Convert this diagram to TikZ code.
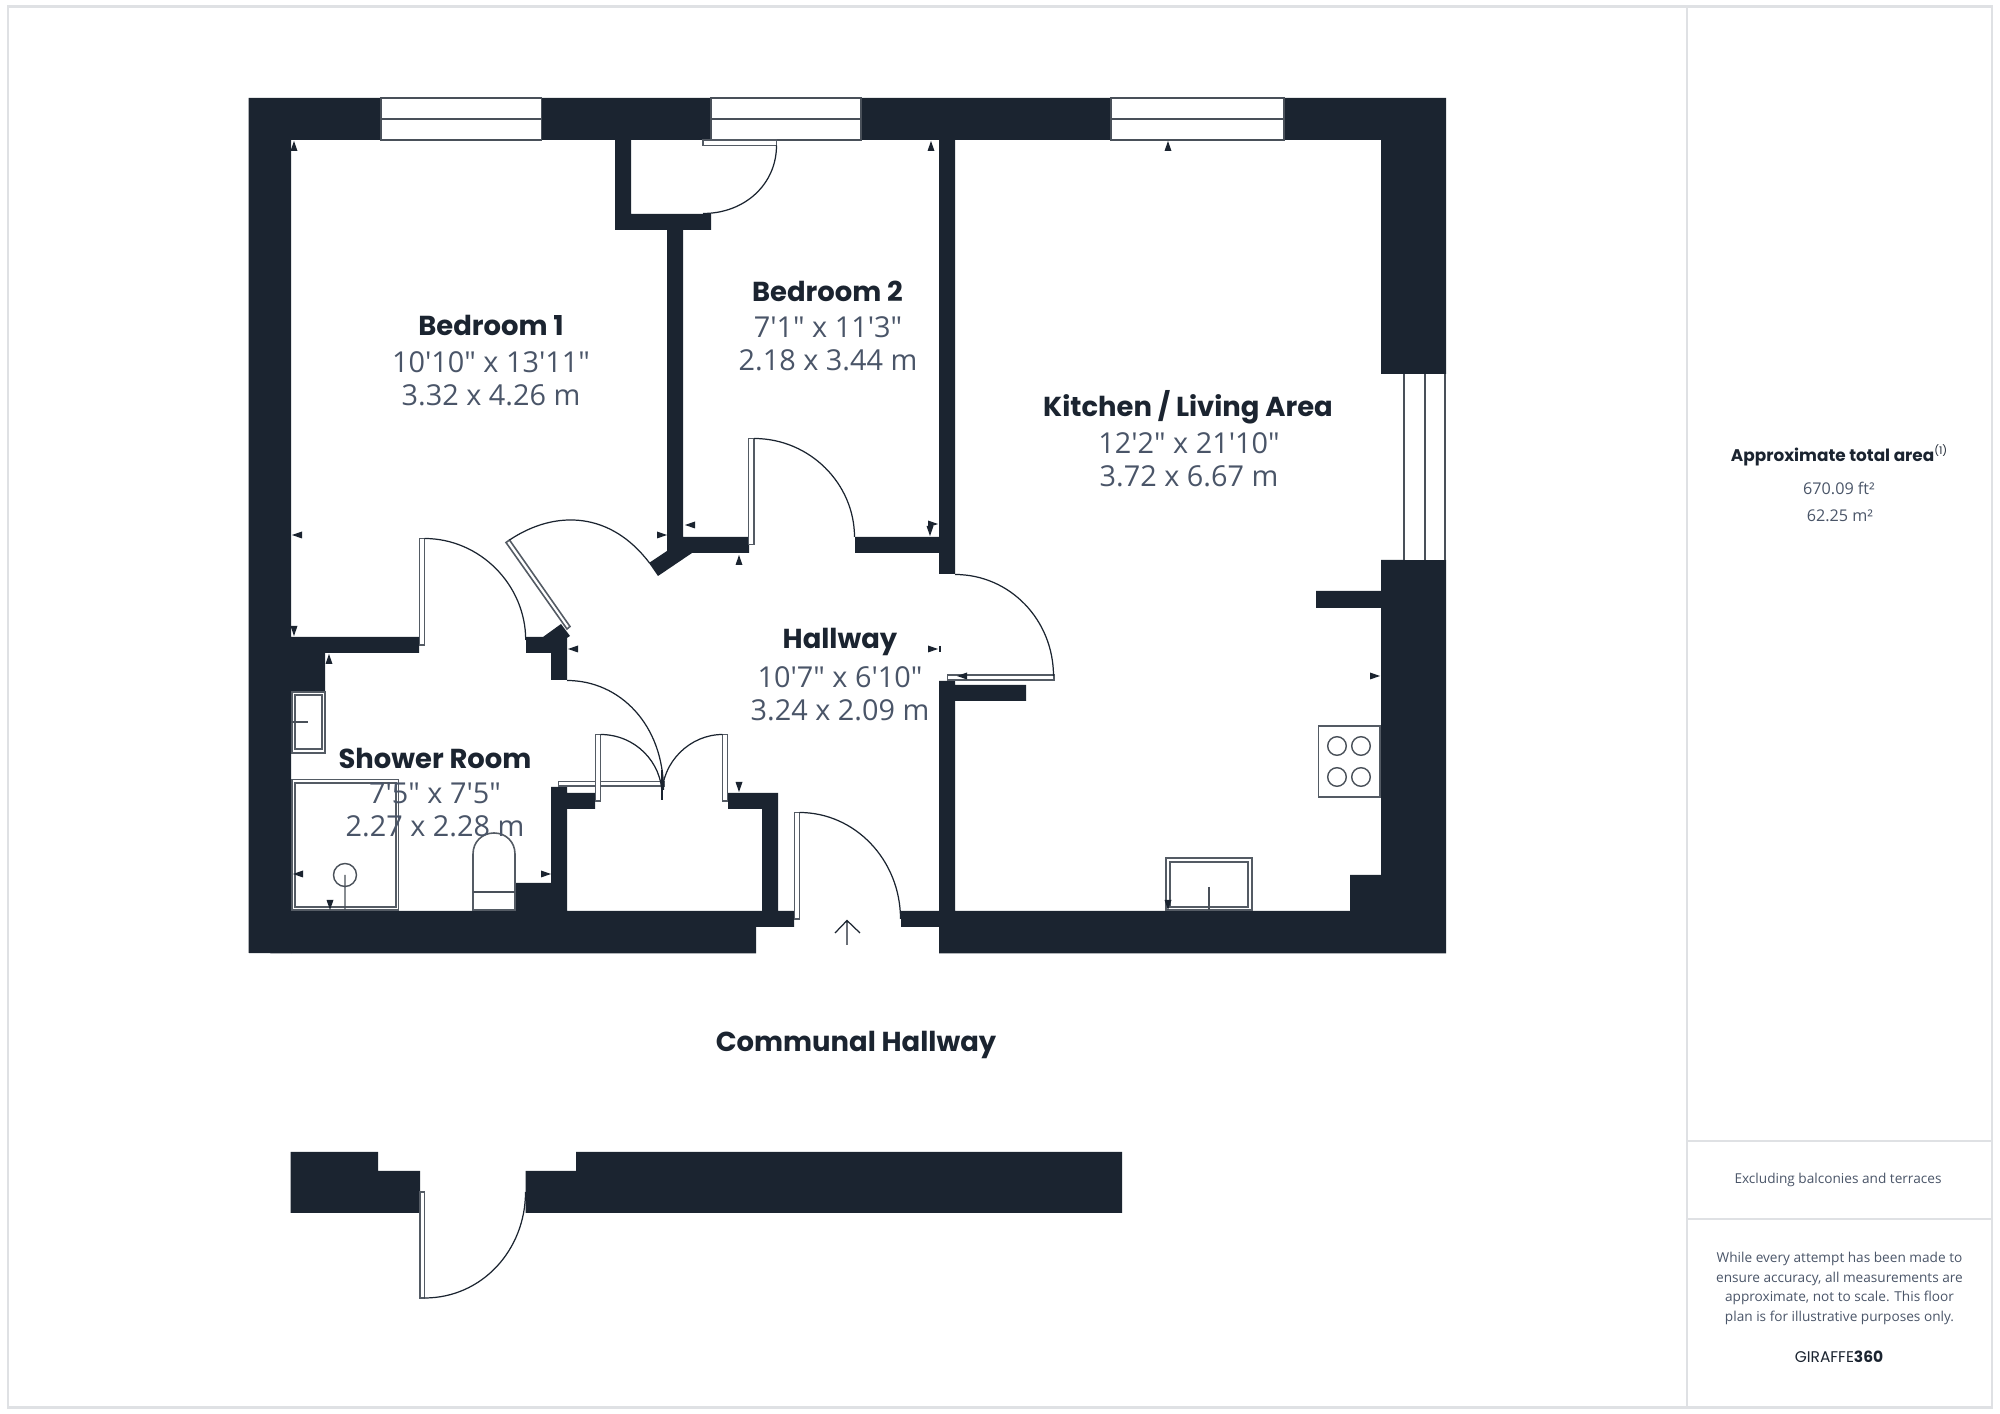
\documentclass[tikz,border=0pt]{standalone}
\usepackage{fontspec}
\setmainfont{Open Sans}[Ligatures=TeXOff]
\newfontfamily\headfont{Poppins}
\definecolor{wallcol}{HTML}{1B2430}
\definecolor{textcol}{HTML}{4A5568}
\definecolor{framecol}{HTML}{DFE1E4}
\tikzset{
  wall/.style={fill=wallcol},
  glazing/.style={draw=wallcol!80, line width=0.45pt, fill=white},
  thinline/.style={draw=wallcol!80, line width=0.4pt},
  fitting/.style={draw=wallcol!75, line width=0.45pt, fill=white},
  swing/.style={draw=wallcol, line width=0.35pt},
  roomname/.style={font=\headfont\fontsize{7.8}{10}\selectfont\bfseries, text=wallcol, inner sep=0pt},
  roomsize/.style={font=\fontsize{8.2}{9.25}\selectfont, text=textcol, inner sep=0pt},
  panelhead/.style={font=\headfont\fontsize{4.8}{6}\selectfont\bfseries, text=wallcol, inner sep=0pt},
  panelarea/.style={font=\fontsize{4.6}{5.6}\selectfont, text=textcol, inner sep=0pt},
  paneltext/.style={font=\fontsize{3.88}{5.58}\selectfont, text=textcol, inner sep=0pt}
}
\begin{document}
\begin{tikzpicture}[x=0.1mm, y=-0.1mm]
  \useasboundingbox (0,0) rectangle (2000,1414);
  % page frame and side panel
  \draw[framecol, line width=0.6pt] (8,6.5) rectangle (1992,1407.5);
  \draw[framecol, line width=0.5pt] (1687,7) -- (1687,1407);
  \draw[framecol, line width=0.5pt] (1687,1141) -- (1992,1141);
  \draw[framecol, line width=0.5pt] (1687,1219) -- (1992,1219);

  % walls
  \fill[wall] (248.5,98) -- (1446,98) -- (1446,374) -- (1381,374) -- (1381,140) -- (955,140)
    -- (955,574) -- (939,574) -- (939,553) -- (855,553) -- (855,537) -- (939,537) -- (939,140)
    -- (631,140) -- (631,214) -- (711,214) -- (711,230) -- (683,230) -- (683,537) -- (749,537)
    -- (749,553) -- (692,553) -- (658,576) -- (649,563) -- (667,551) -- (667,230) -- (615,230)
    -- (615,140) -- (291,140) -- (291,637) -- (419,637) -- (419,653) -- (325,653) -- (325,692)
    -- (291,692) -- (291,953.5) -- (248.5,953) -- cycle;
  \fill[wall] (291,911) -- (515,911) -- (515,883) -- (551,883) -- (551,787) -- (567,787) -- (567,793)
    -- (595,793) -- (595,809) -- (567,809) -- (567,911) -- (762,911) -- (762,809) -- (728,809)
    -- (728,793) -- (778,793) -- (778,911) -- (794,911) -- (794,927) -- (756,927) -- (756,953.5)
    -- (291,953.5) -- cycle;
  \fill[wall] (526,637) -- (543,637) -- (561,624) -- (570,636) -- (567,638) -- (567,680) -- (551,680)
    -- (551,653) -- (526,653) -- cycle;
  \fill[wall] (901,911) -- (939,911) -- (939,681) -- (955,681) -- (955,685) -- (1026,685) -- (1026,701)
    -- (955,701) -- (955,911) -- (1350,911) -- (1350,875) -- (1381,875) -- (1381,608) -- (1316,608)
    -- (1316,591) -- (1381,591) -- (1381,560) -- (1446,560) -- (1446,953.5) -- (939,953.5) -- (939,927)
    -- (901,927) -- cycle;
  \fill[wall] (290.5,1152) -- (378,1152) -- (378,1171) -- (420,1171) -- (420,1213) -- (290.5,1213) -- cycle;
  \fill[wall] (525.5,1171) -- (576,1171) -- (576,1152) -- (1122,1152) -- (1122,1213) -- (525.5,1213) -- cycle;

  % windows
  \draw[glazing] (381,98) rectangle (541.5,140) (381,119) -- (541.5,119);
  \draw[glazing] (711,98) rectangle (861,140) (711,119) -- (861,119);
  \draw[glazing] (1111,98) rectangle (1284,140) (1111,119) -- (1284,119);
  \fill[white] (1404,374) rectangle (1445,560);
  \draw[thinline] (1404,374) -- (1404,560) (1425,374) -- (1425,560) (1445,374) -- (1445,560);

  % door leaves and swings
  \draw[fitting] (419.5,538.5) rectangle (424.5,645);
  \draw[swing] (424.5,538.5) .. controls (480,538.5) and (525.7,585) .. (525.7,640);
  \draw[fitting] (506,542.5) -- (509.5,540) -- (570,626.5) -- (567,629) -- cycle;
  \draw[swing] (509.5,540) .. controls (556,509) and (611,512) .. (649.5,563);
  \draw[fitting] (558.5,781.5) rectangle (664.5,786);
  \draw[swing] (567,680.5) .. controls (620,680.5) and (663.5,725) .. (663.5,790);
  \draw[swing] (662,770) -- (662,800);
  \draw[fitting] (595.5,734.5) rectangle (600.5,801);
  \draw[swing] (600.5,734.5) .. controls (635,734.5) and (662,762) .. (662,795);
  \draw[fitting] (722.5,734.5) rectangle (727.5,801);
  \draw[swing] (722.5,734.5) .. controls (690,734.5) and (662,762) .. (662,795);
  \draw[fitting] (794.5,812.5) rectangle (799.5,919);
  \draw[swing] (799.5,812.5) .. controls (855,812.5) and (900.5,860) .. (900.5,919);
  \draw[fitting] (748.5,438.5) rectangle (754,544.5);
  \draw[swing] (754,438.5) .. controls (810,438.5) and (854.5,484) .. (854.5,537);
  \draw[fitting] (947.5,675) rectangle (1054,680);
  \draw[swing] (955,574.5) .. controls (1010,574.5) and (1053.5,620) .. (1053.5,676);
  \draw[fitting] (703,140) rectangle (776.5,145.5);
  \draw[swing] (776.5,145.5) .. controls (776.5,184) and (745,213.5) .. (703,213.5);
  \draw[fitting] (420,1192) rectangle (424.5,1298);
  \draw[swing] (424.5,1298) .. controls (482,1298) and (525.5,1250) .. (525.5,1192);

  % entrance arrow
  \draw[swing] (847,920.5) -- (847,945) (835,933) -- (847,920.5) -- (860,933);

  % shower room fittings
  \draw[fitting] (292,692) rectangle (325,753);
  \draw[fitting] (295,695) rectangle (322,749);
  \draw[thinline] (291,722) -- (308,722);
  \draw[fitting] (292,779.5) rectangle (398.5,910);
  \draw[fitting] (295,783) rectangle (396,907);
  \draw[thinline] (345,875) circle[radius=1.15mm] (345,875) -- (345,910);
  \draw[fitting] (473,910) -- (473,854) .. controls (473,842) and (482,833) .. (494,833)
    .. controls (506,833) and (515,842) .. (515,854) -- (515,910) -- cycle;
  \draw[thinline] (473,892) -- (515,892);

  % kitchen fittings
  \draw[fitting] (1318.5,726) rectangle (1380,797);
  \foreach \px in {1337,1361}
    \foreach \py in {746,777}
      \draw[thinline] (\px,\py) circle[radius=0.93mm];
  \draw[fitting] (1166,858) rectangle (1252,910);
  \draw[fitting] (1170,862) rectangle (1248,907);
  \draw[thinline] (1209,887) -- (1209,910);

  % dimension tips
  \foreach \px/\py/\rot in {294/141/-90, 1168/141/-90, 329/654/-90, 739/555/-90, 931/141/-90,
      292/535/0, 568/649/0, 685/525/0, 293/874/0, 957/676/0,
      667/535/180, 551/874/180, 938/649/180, 1380/676/180, 938/524/180,
      294/636/90, 330/910/90, 739/792/90, 930/536/90, 1168/910/90}
    \fill[wallcol, shift={(\px,\py)}, rotate=\rot] (0,0) -- (10,3.5) -- (10,-3.5) -- cycle;
  \draw[wallcol, line width=0.3pt] (940,646) -- (940,652);

  % room labels
  \node[roomname] (bedroomone) at (491,325.5) {Bedroom 1};
  \node[roomsize, align=center] (bedroomonesize) at (491,379) {10'10" x 13'11"\\3.32 x 4.26 m};
  \node[roomname] (bedroomtwo) at (827.5,291) {Bedroom 2};
  \node[roomsize, align=center] (bedroomtwosize) at (828,344) {7'1" x 11'3"\\2.18 x 3.44 m};
  \node[roomname] (kitchen) at (1188,407.5) {Kitchen / Living Area};
  \node[roomsize, align=center] (kitchensize) at (1189,460) {12'2" x 21'10"\\3.72 x 6.67 m};
  \node[roomname] (hallway) at (840,642) {Hallway};
  \node[roomsize, align=center] (hallwaysize) at (840,694) {10'7" x 6'10"\\3.24 x 2.09 m};
  \node[roomname] (shower) at (435,758.5) {Shower Room};
  \node[roomsize, align=center] (showersize) at (435,810) {7'5" x 7'5"\\2.27 x 2.28 m};
  \node[roomname] (communal) at (856,1044.5) {Communal Hallway};

  % panel texts
  \node[panelhead] (areahead) at (1840,455) {Approximate total area\textsuperscript{\fontsize{3}{3}\selectfont\mdseries (1)}};
  \node[panelarea] (areafeet) at (1839,488) {670.09 ft²};
  \node[panelarea] (areametre) at (1840,516) {62.25 m²};
  \node[paneltext] (excluding) at (1838,1180) {Excluding balconies and terraces};
  \node[paneltext, align=center] (disclaimer) at (1839.5,1288.5)
    {While every attempt has been made to\\ensure accuracy, all measurements are\\approximate, not to scale. This floor\\plan is for illustrative purposes only.};
  \node[inner sep=0pt, text=wallcol, font=\headfont\fontsize{4.4}{6}\selectfont] (brand) at (1839,1357) {GIRAFFE\textbf{360}};
\end{tikzpicture}
\end{document}
